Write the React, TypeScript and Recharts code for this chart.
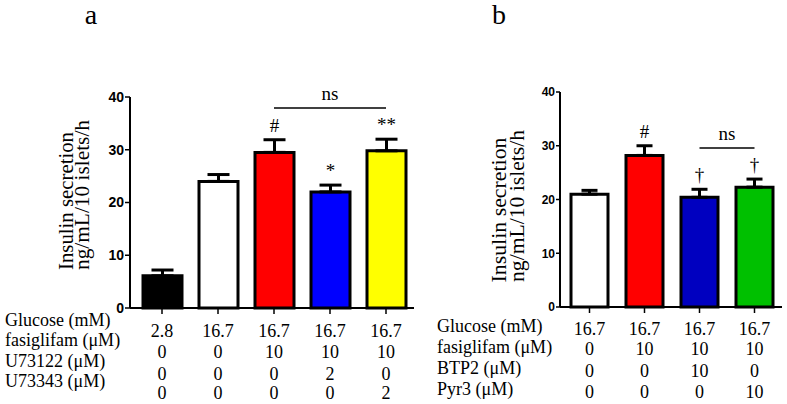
import React from 'react';
import { BarChart, Bar, XAxis, YAxis, ErrorBar, LabelList, ReferenceLine, Cell } from 'recharts';

// panel a
const groupsA = ['A1', 'A2', 'A3', 'A4', 'A5'];
const meanA = [6.1, 24.0, 29.5, 22.0, 29.8];
const semA = [1.1, 1.3, 2.4, 1.3, 2.2];
const colorsA = ['#000000', '#ffffff', '#ff0000', '#0000ff', '#ffff00'];
const marksA = ['', '', '#', '*', '**'];
const rowLabelsA = ['Glucose (mM)', 'fasiglifam (\u03bcM)', 'U73122 (\u03bcM)', 'U73343 (\u03bcM)'];
const glucoseA = ['2.8', '16.7', '16.7', '16.7', '16.7'];
const fasiA = ['0', '0', '10', '10', '10'];
const u73122A = ['0', '0', '0', '2', '0'];
const u73343A = ['0', '0', '0', '0', '2'];

// panel b
const groupsB = ['B1', 'B2', 'B3', 'B4'];
const meanB = [21.0, 28.2, 20.4, 22.3];
const semB = [0.7, 1.8, 1.5, 1.5];
const colorsB = ['#ffffff', '#ff0000', '#0000c0', '#00c000'];
const marksB = ['', '#', '\u2020', '\u2020'];
const rowLabelsB = ['Glucose (mM)', 'fasiglifam (\u03bcM)', 'BTP2 (\u03bcM)', 'Pyr3 (\u03bcM)'];
const glucoseB = ['16.7', '16.7', '16.7', '16.7'];
const fasiB = ['0', '10', '10', '10'];
const btp2B = ['0', '0', '10', '0'];
const pyr3B = ['0', '0', '0', '10'];

const yTicks = [0, 10, 20, 30, 40];

const dataA = groupsA.map((g, i) => ({ name: g, value: meanA[i], err: [0, semA[i]] }));
const dataB = groupsB.map((g, i) => ({ name: g, value: meanB[i], err: [0, semB[i]] }));

const serif = 'Liberation Serif, Times New Roman, serif';
const sans = 'Liberation Sans, Arial, sans-serif';

// annotation above the error bar cap
const markLabel = (marks: string[], sems: number[], fs: number) => (props: any) => {
  const { x, y, width, height, value, index } = props;
  const txt = marks[index];
  if (!txt) return null;
  const ppu = height / value;
  const top = y - sems[index] * ppu;
  return (
    <text x={x + width / 2} y={top - 8} textAnchor="middle" fontFamily={serif} fontSize={fs} fill="#000">
      {txt}
    </text>
  );
};

// column of treatment values under each bar
const tableTick = (rows: string[][], baseY: number[]) => (props: any) => {
  const { x, payload } = props;
  const i = payload.index;
  return (
    <g>
      {rows.map((r, k) => (
        <text key={k} x={x} y={baseY[k]} textAnchor="middle" fontFamily={serif} fontSize={18} fill="#000">
          {r[i]}
        </text>
      ))}
    </g>
  );
};

const yLabel = (x: number, y: number, len: number, txt: string) => (
  <text
    transform={`translate(${x},${y}) rotate(-90)`}
    textAnchor="middle"
    fontFamily={serif}
    fontSize={20}
    textLength={len}
    lengthAdjust="spacingAndGlyphs"
  >
    {txt}
  </text>
);

const App: React.FC = () => {
  return (
    <div style={{ position: 'absolute', left: 0, top: 0, width: 787, height: 404, background: '#fff' }}>
      <svg width={787} height={404} style={{ position: 'absolute', left: 0, top: 0 }}>
        <text x={91} y={24} textAnchor="middle" fontFamily={serif} fontSize={28}>a</text>
        <text x={499} y={24} textAnchor="middle" fontFamily={serif} fontSize={28}>b</text>
        {yLabel(73, 201, 138, 'Insulin secretion')}
        {yLabel(89, 195, 150, 'ng/mL/10 islets/h')}
        {yLabel(506, 210, 145, 'Insulin secretion')}
        {yLabel(524, 206, 152, 'ng/mL/10 islets/h')}
        {rowLabelsA.map((t, k) => (
          <text key={t} x={5} y={[326, 346, 367, 387][k]} fontFamily={serif} fontSize={18}>{t}</text>
        ))}
        {rowLabelsB.map((t, k) => (
          <text key={t} x={437} y={[332, 353, 374, 395][k]} fontFamily={serif} fontSize={18}>{t}</text>
        ))}
      </svg>

      <div style={{ position: 'absolute', left: 0, top: 0 }}>
        <BarChart width={420} height={404} data={dataA} margin={{ top: 97, right: 6, bottom: 66, left: 100 }}>
          <XAxis
            dataKey="name"
            height={30}
            padding={{ left: 4, right: 0 }}
            axisLine={{ stroke: '#000', strokeWidth: 2 }}
            tickLine={{ stroke: '#000', strokeWidth: 1.5 }}
            tickSize={6}
            interval={0}
            tick={tableTick([glucoseA, fasiA, u73122A, u73343A], [337, 358, 380, 399])}
          />
          <YAxis
            width={30}
            domain={[0, 40]}
            ticks={yTicks}
            axisLine={{ stroke: '#000', strokeWidth: 2 }}
            tickLine={{ stroke: '#000', strokeWidth: 1.5 }}
            tickSize={5}
            tickMargin={1}
            tick={{ fill: '#000', fontFamily: sans, fontWeight: 'bold', fontSize: 14 }}
          />
          <Bar dataKey="value" barSize={39} stroke="#000" strokeWidth={3} isAnimationActive={false}>
            {dataA.map((d, i) => <Cell key={d.name} fill={colorsA[i]} />)}
            <ErrorBar dataKey="err" direction="y" width={11} stroke="#000" strokeWidth={3} />
            <LabelList dataKey="value" content={markLabel(marksA, semA, 19)} />
          </Bar>
          <ReferenceLine
            segment={[{ x: 'A3', y: 37.9 }, { x: 'A5', y: 37.9 }]}
            stroke="#000"
            strokeWidth={1.5}
            ifOverflow="visible"
            label={{ value: 'ns', position: 'top', fill: '#000', fontFamily: serif, fontSize: 19, offset: 8 }}
          />
        </BarChart>
      </div>

      <div style={{ position: 'absolute', left: 420, top: 0 }}>
        <BarChart width={367} height={404} data={dataB} margin={{ top: 92, right: 5, bottom: 67, left: 110 }}>
          <XAxis
            dataKey="name"
            height={30}
            padding={{ left: 2, right: 0 }}
            axisLine={{ stroke: '#000', strokeWidth: 2 }}
            tickLine={{ stroke: '#000', strokeWidth: 1.5 }}
            tickSize={6}
            interval={0}
            tick={tableTick([glucoseB, fasiB, btp2B, pyr3B], [335, 355, 377, 398])}
          />
          <YAxis
            width={30}
            domain={[0, 40]}
            ticks={yTicks}
            axisLine={{ stroke: '#000', strokeWidth: 2 }}
            tickLine={{ stroke: '#000', strokeWidth: 1.5 }}
            tickSize={4}
            tickMargin={1}
            tick={{ fill: '#000', fontFamily: sans, fontWeight: 'bold', fontSize: 12 }}
          />
          <Bar dataKey="value" barSize={37} stroke="#000" strokeWidth={3} isAnimationActive={false}>
            {dataB.map((d, i) => <Cell key={d.name} fill={colorsB[i]} />)}
            <ErrorBar dataKey="err" direction="y" width={8} stroke="#000" strokeWidth={3} />
            <LabelList dataKey="value" content={markLabel(marksB, semB, 19)} />
          </Bar>
          <ReferenceLine
            segment={[{ x: 'B3', y: 29.6 }, { x: 'B4', y: 29.6 }]}
            stroke="#000"
            strokeWidth={1.5}
            ifOverflow="visible"
            label={{ value: 'ns', position: 'top', fill: '#000', fontFamily: serif, fontSize: 19, offset: 8 }}
          />
        </BarChart>
      </div>
    </div>
  );
};

export default App;
